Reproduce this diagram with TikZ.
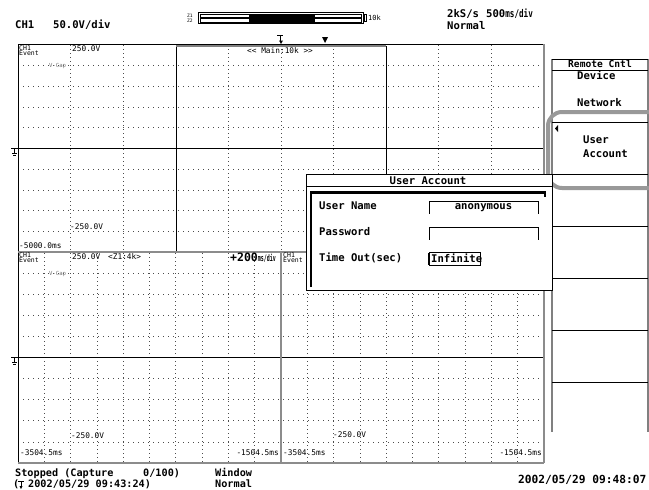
\documentclass[tikz,border=0pt]{standalone}
\usepackage{fontspec}
\usepackage{graphicx}
\newfontfamily\scr{DejaVu Sans Mono}
\begin{document}
\begin{tikzpicture}[x=1pt,y=-1pt,
  lbl/.style={inner sep=0pt, anchor=base west, font=\scr\fontsize{10.6}{12}\selectfont\bfseries},
  stat/.style={inner sep=0pt, anchor=base west, font=\scr\fontsize{10.2}{11}\selectfont\bfseries},
  sm/.style={inner sep=0pt, anchor=base west, font=\scr\fontsize{7.8}{9}\selectfont},
  tiny/.style={inner sep=0pt, anchor=base west, font=\scr\fontsize{6.5}{7}\selectfont},
  vcap/.style={inner sep=0pt, anchor=base west, text=black!55, font=\scr\fontsize{5.6}{6}\selectfont},
  gridv/.style={black!70, line width=0.7pt, dash pattern=on 1pt off 3pt},
  gridh/.style={black!70, line width=0.7pt, dash pattern=on 1pt off 4pt},
  frm/.style={black, line width=0.8pt},
  gfrm/.style={black!45, line width=2pt},
  zero/.style={black, line width=1.8pt},
  sep/.style={black, line width=0.8pt}]
\useasboundingbox (0,0) rectangle (649,490);
\fill[white] (0,0) rectangle (649,490);

% ---------- grids ----------
\foreach \k in {1,2,4,5,6,8,9} \draw[gridv] ({18+\k*52.6},45) -- ({18+\k*52.6},251);
\foreach \j in {1,2,3,4,6,7,8,9} \draw[gridh] (18,{45+\j*20.7}) -- (544,{45+\j*20.7});
\foreach \k in {1,...,9} {
  \draw[gridv] ({18+\k*26.3},253) -- ({18+\k*26.3},463);
  \draw[gridv] ({281+\k*26.3},253) -- ({281+\k*26.3},463);
}
\foreach \j in {1,2,3,4,6,7,8,9} \draw[gridh] (18,{252+\j*21.1}) -- (544,{252+\j*21.1});

% ---------- zero lines and ground marks ----------
\draw[zero] (18,148.5) -- (544,148.5);
\draw[zero] (18,357.5) -- (544,357.5);
\foreach \g in {148.5,357.5} {
  \draw[frm] (11,\g) -- (18,\g);
  \draw[frm] (14.5,\g) -- (14.5,{\g+5});
  \draw[frm] (12,{\g+5}) -- (17,{\g+5});
  \draw[frm] (13,{\g+7}) -- (16,{\g+7});
}

% ---------- frames ----------
\draw[frm] (18,44) -- (544,44);
\draw[frm] (18,44) -- (18,463);
\draw[gfrm] (544,44) -- (544,463);
\draw[gfrm] (18,463) -- (544,463);
\draw[gfrm] (18,252) -- (544,252);
\draw[gfrm] (281,252) -- (281,463);
\draw[frm] (176,46) -- (176,251);
\draw[frm] (386,46) -- (386,251);
\draw[black!50, line width=2pt] (176,46) -- (386,46);

% ---------- top header ----------
\node[lbl] (ch) at (15,28) {CH1};
\node[lbl] (vdiv) at (53,28) {50.0V/div};
\node[inner sep=0pt, anchor=base west, font=\scr\fontsize{4.6}{5}\selectfont] (z1) at (187,17.3) {Z1};
\node[inner sep=0pt, anchor=base west, font=\scr\fontsize{4.6}{5}\selectfont] (z2) at (187,22.6) {Z2};
\draw[frm] (198,12.5) rectangle (363,23.5);
\draw[frm,line width=0.6pt] (200,13.8) rectangle (361,17.5);
\draw[frm,line width=0.6pt] (200,18.6) rectangle (361,22.3);
\fill[black] (249,13.8) rectangle (315,17.5);
\fill[black] (249,18.6) rectangle (315,22.3);
\draw[frm,line width=0.6pt] (364.5,14) rectangle (366.5,21.5);
\node[inner sep=0pt, anchor=base west, font=\scr\fontsize{7}{8}\selectfont] (tk) at (368,20.8) {10k};
\node[lbl] (rate) at (447,17) {2kS/s};
\node[lbl] (tdiv) at (486,17) {500\scalebox{0.72}[1]{ms/div}};
\node[lbl] (mode) at (447,29) {Normal};
% trigger marks
\draw[frm] (277,35) -- (283,35);
\draw[frm] (280,35) -- (280,42);
\fill[black] (279,40.5) -- (283,40.5) -- (281,44) -- cycle;
\fill[black] (322,37) -- (328,37) -- (325,43) -- cycle;

% ---------- top panel labels ----------
\node[tiny] (c1a) at (19,50.5) {CH1};
\node[tiny] (e1a) at (19,55.5) {Event};
\node[sm] (u1) at (72,51.5) {250.0V};
\node[sm] (mainlbl) at (247,53) {<< Main:10k >>};
\node[vcap] (vc1) at (49,67.6) {V-Cap};
\node[sm] (l1) at (70,229) {-250.0V};
\node[sm] (t1) at (19,248.8) {-5000.0ms};

% ---------- bottom panel labels ----------
\node[tiny] (c2a) at (19,257) {CH1};
\node[tiny] (e2a) at (19,262) {Event};
\node[sm] (u2) at (72,259) {250.0V};
\node[sm] (zl) at (108,259) {<Z1:4k>};
\node[inner sep=0pt, anchor=base west, font=\scr\bfseries] (zdiv) at (230,261)
  {{\fontsize{11.5}{12}\selectfont +200}{\fontsize{9}{9}\selectfont\scalebox{0.55}[1]{ms/div}}};
\node[vcap] (vc2) at (49,275.2) {V-Cap};
\node[sm] (l2) at (71,438) {-250.0V};
\node[sm] (t2) at (20,455.5) {-3504.5ms};
\node[sm, anchor=base east] (t3) at (279,455.5) {-1504.5ms};
\node[tiny] (c3a) at (283,257) {CH1};
\node[tiny] (e3a) at (283,262) {Event};
\node[sm] (t4) at (283,455.5) {-3504.5ms};
\node[sm] (l3) at (333,437.5) {-250.0V};
\node[sm, anchor=base east] (t5) at (542,455.5) {-1504.5ms};

% ---------- bottom status ----------
\node[stat] (st1) at (15,476.3) {Stopped (Capture};
\node[stat] (st2) at (143,476.3) {0/100)};
\node[stat] (win) at (215,476.3) {Window};
\node[stat] (par) at (13,487.5) {(};
\draw[frm] (18,481) -- (24,481);
\draw[frm] (21,481) -- (21,487);
\fill[black] (19.5,486) -- (22.5,486) -- (21,489) -- cycle;
\node[stat] (trd) at (28,487.5) {2002/05/29 09:43:24)};
\node[stat] (norm2) at (215,487.5) {Normal};
\node[stat, font=\scr\fontsize{11.2}{12}\selectfont\bfseries] (now) at (518,483) {2002/05/29 09:48:07};

% ---------- softkey menu ----------
\draw[black!50, line width=1.2pt] (552,59) -- (552,432);
\draw[black!50, line width=1.2pt] (648,59) -- (648,432);
\draw[sep] (552,59) -- (648,59);
\draw[sep] (552,70) -- (648,70);
\foreach \s in {122,174,226,278,330,382} \draw[sep] (552,\s) -- (648,\s);
\node[lbl, anchor=base, font=\scr\fontsize{9.6}{10}\selectfont\bfseries] (rc) at (600,67.5) {Remote Cntl};
\node[lbl] (dev) at (577,79.5) {Device};
\node[lbl] (net) at (577,106) {Network};
\node[lbl] (ua1) at (583,143) {User};
\node[lbl] (ua2) at (583,157) {Account};
\fill[black] (558,125) -- (558,132) -- (555,128.5) -- cycle;
\draw[black!40, line width=4pt, rounded corners=14pt] (665,112) -- (548,112) -- (548,188) -- (665,188);

% ---------- dialog ----------
\draw[frm, fill=white] (306,174) rectangle (552,290);
\draw[frm] (306,186.7) -- (552,186.7);
\node[lbl, anchor=base] (dtitle) at (428,184) {User Account};
\draw[black, line width=2.5pt, line cap=butt] (311,287) -- (311,192.5) -- (545,192.5) -- (545,196.5);
\node[lbl] (fn1) at (319,209) {User Name};
\node[lbl] (fn2) at (319,235) {Password};
\node[lbl] (fn3) at (319,261) {Time Out(sec)};
\draw[frm] (429,213.5) -- (429,201) -- (538,201) -- (538,213.5);
\draw[frm] (429,239.5) -- (429,227) -- (538,227) -- (538,239.5);
\draw[frm] (429,252.5) rectangle (480,265);
\draw[black, line width=1.4pt] (429,252.5) -- (429,265);
\node[lbl, anchor=base] (fv1) at (483.5,209) {anonymous};
\node[lbl] (fv3) at (431,262) {Infinite};
\end{tikzpicture}
\end{document}
